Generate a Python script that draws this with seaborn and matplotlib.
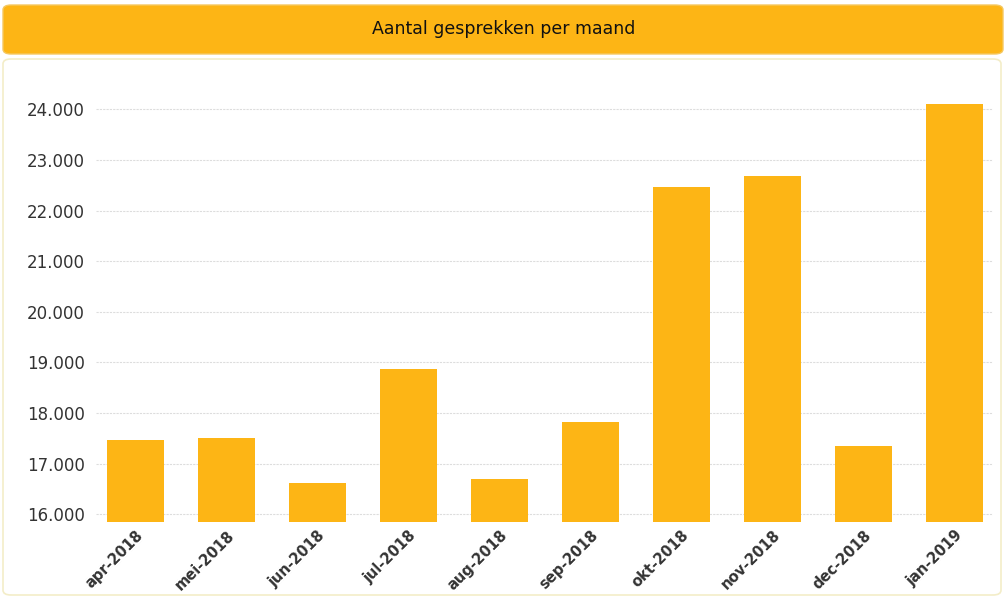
import matplotlib
matplotlib.use("Agg")
import matplotlib.pyplot as plt
import seaborn as sns
import pandas as pd
from matplotlib.patches import FancyBboxPatch
from matplotlib.ticker import FuncFormatter

# data
maanden = ['apr-2018', 'mei-2018', 'jun-2018', 'jul-2018', 'aug-2018',
           'sep-2018', 'okt-2018', 'nov-2018', 'dec-2018', 'jan-2019']
gesprekken = [17460, 17515, 16610, 18875, 16690, 17830, 22455, 22685, 17340, 24095]
y_ticks = [16000, 17000, 18000, 19000, 20000, 21000, 22000, 23000, 24000]

oranje = '#FDB515'

df = pd.DataFrame({'maand': maanden, 'aantal': gesprekken})

sns.set_style('white')
plt.rcParams['font.family'] = ['DejaVu Sans']

fig = plt.figure(figsize=(10.07, 6.04), dpi=100)
W, H = 1007, 604

# titelbalk
fig.patches.append(FancyBboxPatch((3 / W, (H - 54) / H), 1000 / W, 49 / H,
                                  boxstyle='round,pad=0,rounding_size=0.008',
                                  transform=fig.transFigure, facecolor=oranje,
                                  edgecolor='#F5C860', linewidth=1, zorder=-10))
fig.text(0.5, (H - 29) / H, 'Aantal gesprekken per maand', ha='center', va='center',
         fontsize=12.5, color='#111111')

# kader rond grafiek
fig.patches.append(FancyBboxPatch((3 / W, (H - 595) / H), 998 / W, 536 / H,
                                  boxstyle='round,pad=0,rounding_size=0.008',
                                  transform=fig.transFigure, facecolor='white',
                                  edgecolor='#F3EDC8', linewidth=1.2, zorder=-10))

ax = fig.add_axes([96 / W, (H - 522) / H, 897 / W, 432 / H])
ax.set_zorder(5)
ax.set_facecolor('none')
sns.barplot(data=df, x='maand', y='aantal', color=oranje, saturation=1,
            width=0.626, linewidth=0, ax=ax, zorder=3)

ax.set_ylim(15848, 24380)
ax.set_xlim(-0.434, 9.423)
ax.set_yticks(y_ticks)
ax.yaxis.set_major_formatter(FuncFormatter(lambda v, p: f'{int(v):,}'.replace(',', '.')))
ax.grid(axis='y', color='#DDDDDD', linestyle=(0, (2, 1)), linewidth=0.8, zorder=0)
ax.grid(axis='x', visible=False)
ax.set_axisbelow(True)
for s in ax.spines.values():
    s.set_visible(False)

ax.tick_params(axis='y', length=0, pad=8, labelsize=12, labelcolor='#333333')
ax.tick_params(axis='x', length=0, pad=4, labelsize=10.5, labelcolor='#333333')
for lab in ax.get_xticklabels():
    lab.set_rotation(45)
    lab.set_ha('right')
    lab.set_rotation_mode('anchor')
    lab.set_fontweight('bold')
ax.set_xlabel('')
ax.set_ylabel('')

fig.savefig('out.png', dpi=100)
